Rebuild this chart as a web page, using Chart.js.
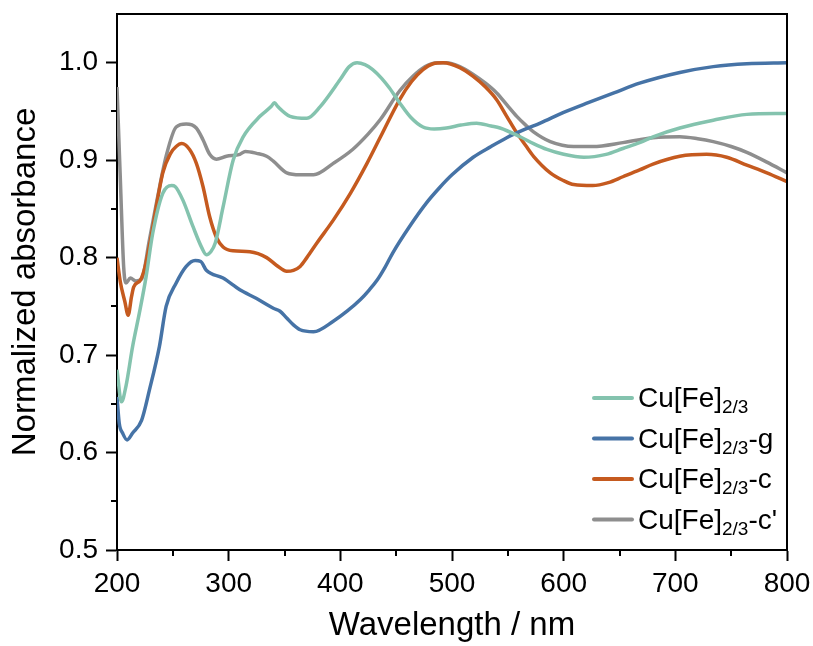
<!DOCTYPE html>
<html>
<head>
<meta charset="utf-8">
<script src="https://cdn.jsdelivr.net/npm/chart.js@4.4.1/dist/chart.umd.min.js"></script>
<style>
  body { margin: 0; background: #fff; }
</style>
</head>
<body>
<canvas id="myChart" width="813" height="646"></canvas>
<script>
// Cu[Fe]2/3
let wl_a = [200, 204, 208, 214, 220, 226, 232, 241, 249, 252, 259, 268, 276, 280, 284, 288, 295, 304, 313, 328, 338, 341, 344, 355, 370, 382, 400, 408, 415, 422, 429, 437, 444, 453, 463, 474, 484, 495, 508, 522, 535, 543, 561, 573, 585, 600, 618, 638, 653, 668, 680, 704, 734, 764, 800];
let abs_a = [0.685, 0.652, 0.668, 0.709, 0.743, 0.78, 0.825, 0.866, 0.874, 0.873, 0.859, 0.832, 0.81, 0.803, 0.806, 0.815, 0.852, 0.9, 0.924, 0.945, 0.955, 0.959, 0.955, 0.945, 0.943, 0.955, 0.983, 0.996, 1.0, 0.998, 0.993, 0.984, 0.974, 0.959, 0.944, 0.934, 0.932, 0.933, 0.936, 0.938, 0.935, 0.933, 0.924, 0.917, 0.911, 0.906, 0.903, 0.906, 0.912, 0.918, 0.924, 0.933, 0.941, 0.947, 0.948];

// Cu[Fe]2/3-g
let wl_g = [200, 202, 205, 209, 214, 222, 229, 238, 244, 253, 262, 270, 275, 280, 295, 310, 325, 340, 346, 352, 358, 364, 376, 394, 406, 418, 426, 433, 440, 447, 462, 477, 489, 500, 519, 535, 549, 564, 579, 600, 622, 645, 668, 704, 734, 764, 800];
let abs_g = [0.657, 0.63, 0.62, 0.613, 0.62, 0.633, 0.664, 0.709, 0.75, 0.774, 0.791, 0.797, 0.796, 0.787, 0.779, 0.767, 0.758, 0.748, 0.745, 0.738, 0.731, 0.726, 0.724, 0.735, 0.745, 0.757, 0.767, 0.777, 0.79, 0.805, 0.832, 0.856, 0.872, 0.885, 0.903, 0.914, 0.923, 0.931, 0.938, 0.949, 0.959, 0.969, 0.979, 0.99, 0.996, 0.999, 1.0];

// Cu[Fe]2/3-c
let wl_c = [200, 203, 207, 210, 213, 215, 221, 225, 230, 241, 248, 253, 258, 265, 271, 277, 283, 289, 295, 304, 319, 334, 343, 352, 358, 364, 370, 379, 394, 409, 424, 436, 453, 464, 474, 483, 492, 507, 519, 530, 540, 549, 558, 566, 573, 588, 600, 609, 626, 640, 653, 668, 680, 704, 728, 746, 764, 782, 800];
let abs_c = [0.8, 0.775, 0.755, 0.741, 0.76, 0.77, 0.777, 0.79, 0.818, 0.887, 0.907, 0.914, 0.917, 0.911, 0.897, 0.873, 0.842, 0.821, 0.811, 0.807, 0.806, 0.8, 0.792, 0.786, 0.787, 0.791, 0.8, 0.815, 0.839, 0.866, 0.897, 0.924, 0.962, 0.981, 0.993, 0.999, 1.0, 0.995, 0.986, 0.975, 0.962, 0.945, 0.928, 0.915, 0.904, 0.887, 0.879, 0.875, 0.874, 0.877, 0.883, 0.89, 0.896, 0.904, 0.906, 0.903, 0.895, 0.887, 0.878];

// Cu[Fe]2/3-c'
let wl_cp = [200, 203, 206, 208, 212, 217, 222, 229, 236, 244, 253, 262, 271, 277, 283, 289, 298, 310, 315, 325, 334, 340, 352, 364, 376, 394, 411, 425, 436, 453, 465, 476, 487, 495, 507, 519, 530, 540, 549, 558, 566, 573, 588, 609, 626, 653, 668, 680, 704, 720, 734, 750, 764, 782, 800];
let abs_cp = [0.975, 0.88, 0.79, 0.774, 0.779, 0.776, 0.778, 0.818, 0.86, 0.904, 0.934, 0.937, 0.933, 0.921, 0.906, 0.901, 0.904, 0.906, 0.909, 0.907, 0.904, 0.899, 0.887, 0.885, 0.885, 0.897, 0.911, 0.927, 0.942, 0.971, 0.986, 0.996, 1.0, 1.0, 0.996, 0.988, 0.979, 0.969, 0.957, 0.945, 0.936, 0.929, 0.919, 0.914, 0.914, 0.918, 0.921, 0.923, 0.924, 0.922, 0.919, 0.914, 0.908, 0.898, 0.887];

let series_labels = ["", "-g", "-c", "-c'"];
let series_colors = ["#84c3ae", "#4673a6", "#c55a1f", "#8e8e8e"];
let y_ticks = [0.5, 0.6, 0.7, 0.8, 0.9, 1.0];
let y_minor = [0.55, 0.65, 0.75, 0.85, 0.95];
let x_minor = [250, 350, 450, 550, 650, 750];

const FONT = "'Liberation Sans', Arial, sans-serif";

function pts(xs, ys) {
    return xs.map((x, i) => ({ x: x, y: ys[i] }));
}

let ctx = document.getElementById("myChart").getContext("2d");

// minor ticks, top/right frame and the legend with subscripts
const extras = {
    id: "extras",
    afterDraw(chart) {
        const c = chart.ctx;
        const area = chart.chartArea;
        const xs = chart.scales.x;
        const ys = chart.scales.y;
        c.save();
        c.strokeStyle = "#000";
        c.lineWidth = 2;
        c.beginPath();
        x_minor.forEach(v => {
            const px = Math.round(xs.getPixelForValue(v));
            c.moveTo(px, area.bottom);
            c.lineTo(px, area.bottom + 6);
        });
        y_minor.forEach(v => {
            const py = Math.round(ys.getPixelForValue(v));
            c.moveTo(area.left, py);
            c.lineTo(area.left - 6, py);
        });
        c.moveTo(area.left, area.top);
        c.lineTo(area.right, area.top);
        c.lineTo(area.right, area.bottom);
        c.stroke();

        // legend
        const lx0 = 594, lx1 = 632, tx = 638;
        let baseY = 407;
        series_labels.forEach((suffix, i) => {
            const y = baseY + i * 40.5;
            c.strokeStyle = series_colors[i];
            c.lineWidth = 4;
            c.lineCap = "round";
            c.beginPath();
            c.moveTo(lx0, y - 9);
            c.lineTo(lx1, y - 9);
            c.stroke();
            c.fillStyle = "#000";
            c.textBaseline = "alphabetic";
            c.textAlign = "left";
            c.font = "28px " + FONT;
            let x = tx;
            c.fillText("Cu[Fe]", x, y);
            x += c.measureText("Cu[Fe]").width;
            c.font = "19px " + FONT;
            c.fillText("2/3", x, y + 6);
            x += c.measureText("2/3").width;
            c.font = "28px " + FONT;
            c.fillText(suffix, x, y);
        });
        c.restore();
    }
};

new Chart(ctx, {
    type: "line",
    data: {
        datasets: [
            { data: pts(wl_a, abs_a), borderColor: series_colors[0] },
            { data: pts(wl_g, abs_g), borderColor: series_colors[1] },
            { data: pts(wl_c, abs_c), borderColor: series_colors[2] },
            { data: pts(wl_cp, abs_cp), borderColor: series_colors[3] }
        ]
    },
    options: {
        responsive: false,
        animation: false,
        layout: { padding: { top: 14, right: 26, left: 0, bottom: 0 } },
        elements: {
            point: { radius: 0 },
            line: { borderWidth: 3.5, tension: 0.4, cubicInterpolationMode: "monotone" }
        },
        plugins: {
            legend: { display: false },
            tooltip: { enabled: false }
        },
        scales: {
            x: {
                type: "linear",
                min: 200,
                max: 800,
                afterFit: s => { s.height = 96; s.paddingLeft = 0; s.paddingRight = 0; },
                ticks: { stepSize: 100, color: "#000", padding: 6, font: { size: 28, family: FONT } },
                grid: { drawOnChartArea: false, tickLength: 11, tickWidth: 2, tickColor: "#000" },
                border: { color: "#000", width: 2 },
                title: { display: true, text: "Wavelength / nm", color: "#000", padding: { top: 0, bottom: 0 }, font: { size: 33, family: FONT } }
            },
            y: {
                min: 0.5,
                max: 1.05,
                afterFit: s => { s.width = 117; s.paddingTop = 0; s.paddingBottom = 0; },
                afterBuildTicks: s => { s.ticks = y_ticks.map(v => ({ value: v })); },
                ticks: { color: "#000", padding: 8, font: { size: 28, family: FONT }, callback: v => v.toFixed(1) },
                grid: { drawOnChartArea: false, tickLength: 11, tickWidth: 2, tickColor: "#000" },
                border: { color: "#000", width: 2 },
                title: { display: true, text: "Normalized absorbance", color: "#000", padding: { top: 6, bottom: 0 }, font: { size: 33, family: FONT } }
            }
        }
    },
    plugins: [extras]
});
</script>
</body>
</html>
